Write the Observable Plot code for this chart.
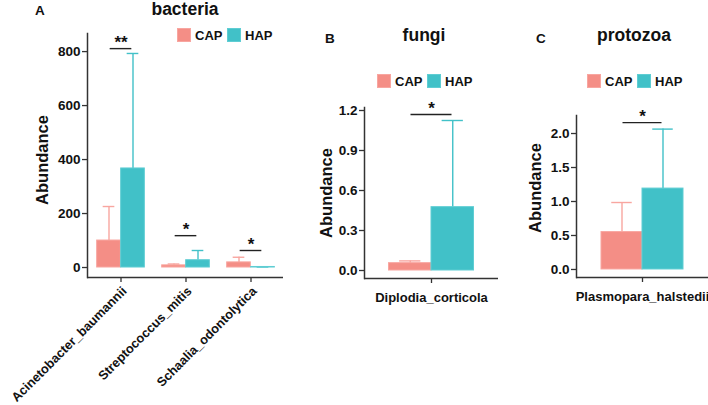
<!DOCTYPE html>
<html>
<head>
<meta charset="utf-8">
<script src="https://cdn.jsdelivr.net/npm/d3@7"></script>
<script src="https://cdn.jsdelivr.net/npm/@observablehq/plot@0.6"></script>
<style>
  body { margin: 0; background: #fff; }
  #wrap { position: relative; width: 708px; height: 405px; overflow: hidden; background: #fff; }
  #wrap > svg { position: absolute; top: 0; }
</style>
</head>
<body>
<div id="wrap"></div>
<script>
// ---------- data ----------
const groups = ["CAP", "HAP"];

const bacteriaSpecies = ["Acinetobacter_baumannii", "Streptococcus_mitis", "Schaalia_odontolytica"];
const bacteriaCAP = [100, 8, 19];
const bacteriaCAPUpper = [226, 13, 38];
const bacteriaHAP = [367, 27, 2];
const bacteriaHAPUpper = [793, 63, 2];
const bacteriaSig = [811, 118, 63];
const bacteriaSigLabel = ["**", "*", "*"];
const bacteriaTicks = [0, 200, 400, 600, 800];

const fungiSpecies = ["Diplodia_corticola"];
const fungiCAP = [0.055];
const fungiCAPUpper = [0.072];
const fungiHAP = [0.475];
const fungiHAPUpper = [1.125];
const fungiSig = [1.17];
const fungiSigLabel = ["*"];
const fungiTicks = [0, 0.3, 0.6, 0.9, 1.2];

const protozoaSpecies = ["Plasmopara_halstedii"];
const protozoaCAP = [0.55];
const protozoaCAPUpper = [0.985];
const protozoaHAP = [1.19];
const protozoaHAPUpper = [2.065];
const protozoaSig = [2.16];
const protozoaSigLabel = ["*"];
const protozoaTicks = [0, 0.5, 1.0, 1.5, 2.0];

// ---------- style ----------
const FONT = "'Liberation Sans', Arial, Helvetica, sans-serif";
const capFill = "#F48E86", capStroke = "#F8A6A0";
const hapFill = "#41C1C8", hapStroke = "#5FCDD3";
const axisColor = "#333333";

function panel(o) {
  const bw = (o.width - o.marginLeft - o.marginRight) / o.species.length;
  const w = o.barW;
  const capRows = o.species.map((s, i) => ({species: s, value: o.cap[i], upper: o.capUp[i]}));
  const hapRows = o.species.map((s, i) => ({species: s, value: o.hap[i], upper: o.hapUp[i]}));
  const sigRows = o.species.map((s, i) => ({species: s, y: o.sig[i], label: o.sigLabel[i]}));
  const svg = Plot.plot({
    width: o.width, height: o.height,
    marginLeft: o.marginLeft, marginRight: o.marginRight,
    marginTop: o.marginTop, marginBottom: o.marginBottom,
    style: {fontFamily: FONT, background: "transparent", overflow: "visible"},
    x: {domain: o.species, padding: 0, label: null},
    y: {domain: o.yDomain, label: null},
    marks: [
      // error bars (upper only)
      Plot.ruleX(capRows, {x: "species", y1: "value", y2: "upper", dx: -w / 2, stroke: capStroke, strokeWidth: 1.4}),
      Plot.ruleX(hapRows, {x: "species", y1: "value", y2: "upper", dx: w / 2, stroke: hapFill, strokeWidth: 1.4}),
      Plot.tickY(capRows, {x: "species", y: "upper", insetLeft: bw / 2 - 0.75 * w, insetRight: bw / 2 + 0.25 * w, stroke: capStroke, strokeWidth: 1.4}),
      Plot.tickY(hapRows, {x: "species", y: "upper", insetLeft: bw / 2 + 0.25 * w, insetRight: bw / 2 - 0.75 * w, stroke: hapFill, strokeWidth: 1.4}),
      // bars
      Plot.barY(capRows, {x: "species", y: "value", insetLeft: bw / 2 - w, insetRight: bw / 2, fill: capFill, stroke: capStroke, strokeWidth: 1}),
      Plot.barY(hapRows, {x: "species", y: "value", insetLeft: bw / 2, insetRight: bw / 2 - w, fill: hapFill, stroke: hapStroke, strokeWidth: 1}),
      // significance
      Plot.tickY(sigRows, {x: "species", y: "y", insetLeft: (bw - o.sigW) / 2, insetRight: (bw - o.sigW) / 2, stroke: "#222", strokeWidth: 1.4}),
      Plot.text(sigRows, {x: "species", y: "y", text: "label", dy: -6, fontSize: 17, fontWeight: "bold", fill: "#111"}),
      // axis lines
      Plot.ruleY([o.yDomain[0]], {stroke: axisColor, strokeWidth: 1.5}),
      Plot.frame({anchor: "left", stroke: axisColor, strokeWidth: 1.5}),
      Plot.axisY({ticks: o.yTicks, tickFormat: o.fmt, tickSize: 5, tickPadding: 2, fontSize: 13.5, fontWeight: "bold", stroke: axisColor, strokeWidth: 1.3, fill: "#111", label: null}),
      Plot.axisX(o.rotate
        ? {tickSize: 5, tickPadding: 3, tickRotate: -45, lineAnchor: "top", textAnchor: "end", fontSize: 12.8, fontWeight: "bold", stroke: axisColor, strokeWidth: 1.3, fill: "#111", label: null}
        : {tickSize: 5, tickPadding: 9, fontSize: 13, fontWeight: "bold", stroke: axisColor, strokeWidth: 1.3, fill: "#111", label: null})
    ]
  });
  svg.style.left = o.left + "px";
  return svg;
}

const wrap = document.getElementById("wrap");

wrap.appendChild(panel({
  left: 0, width: 300, height: 405, marginLeft: 87, marginRight: 17, marginTop: 33, marginBottom: 128,
  species: bacteriaSpecies, cap: bacteriaCAP, capUp: bacteriaCAPUpper, hap: bacteriaHAP, hapUp: bacteriaHAPUpper,
  sig: bacteriaSig, sigLabel: bacteriaSigLabel, yDomain: [-37, 867], yTicks: bacteriaTicks, fmt: d => String(d),
  barW: 24, sigW: 22, rotate: true
}));
wrap.appendChild(panel({
  left: 300, width: 208, height: 405, marginLeft: 64, marginRight: 10, marginTop: 107, marginBottom: 127,
  species: fungiSpecies, cap: fungiCAP, capUp: fungiCAPUpper, hap: fungiHAP, hapUp: fungiHAPUpper,
  sig: fungiSig, sigLabel: fungiSigLabel, yDomain: [-0.06, 1.2225], yTicks: fungiTicks, fmt: d => d.toFixed(1),
  barW: 42.5, sigW: 41, rotate: false
}));
wrap.appendChild(panel({
  left: 500, width: 208, height: 405, marginLeft: 76, marginRight: 0, marginTop: 115, marginBottom: 128,
  species: protozoaSpecies, cap: protozoaCAP, capUp: protozoaCAPUpper, hap: protozoaHAP, hapUp: protozoaHAPUpper,
  sig: protozoaSig, sigLabel: protozoaSigLabel, yDomain: [-0.118, 2.265], yTicks: protozoaTicks, fmt: d => d.toFixed(1),
  barW: 41, sigW: 39, rotate: false
}));

// ---------- titles, panel letters, legends, y labels ----------
const titles = [
  {letter: "A", lx: 35, ly: 15, title: "bacteria", tx: 185, ty: 15},
  {letter: "B", lx: 325, ly: 43, title: "fungi", tx: 424, ty: 41},
  {letter: "C", lx: 536, ly: 43, title: "protozoa", tx: 634, ty: 41}
];
const legends = [{x: 177, y: 28}, {x: 377, y: 74}, {x: 587, y: 74}];
const ylabels = [{x: 42, y: 160}, {x: 326, y: 193}, {x: 535, y: 188}];

let ov = `<svg width="708" height="405" style="left:0;top:0;pointer-events:none" font-family="${FONT}" font-weight="bold">`;
for (const t of titles) {
  ov += `<text x="${t.lx}" y="${t.ly}" font-size="13.5" fill="#111">${t.letter}</text>`;
  ov += `<text x="${t.tx}" y="${t.ty}" font-size="17.5" text-anchor="middle" fill="#111">${t.title}</text>`;
}
for (const l of legends) {
  ov += `<rect x="${l.x + 0.5}" y="${l.y + 0.5}" width="13" height="13" fill="${capFill}" stroke="${capStroke}"/>`;
  ov += `<text x="${l.x + 18}" y="${l.y + 12}" font-size="13" fill="#111">${groups[0]}</text>`;
  ov += `<rect x="${l.x + 50.5}" y="${l.y + 0.5}" width="13" height="13" fill="${hapFill}" stroke="${hapStroke}"/>`;
  ov += `<text x="${l.x + 68}" y="${l.y + 12}" font-size="13" fill="#111">${groups[1]}</text>`;
}
for (const y of ylabels) {
  ov += `<text transform="translate(${y.x},${y.y}) rotate(-90)" text-anchor="middle" dominant-baseline="central" font-size="16.5" fill="#111">Abundance</text>`;
}
ov += `</svg>`;
wrap.insertAdjacentHTML("beforeend", ov);
</script>
</body>
</html>
